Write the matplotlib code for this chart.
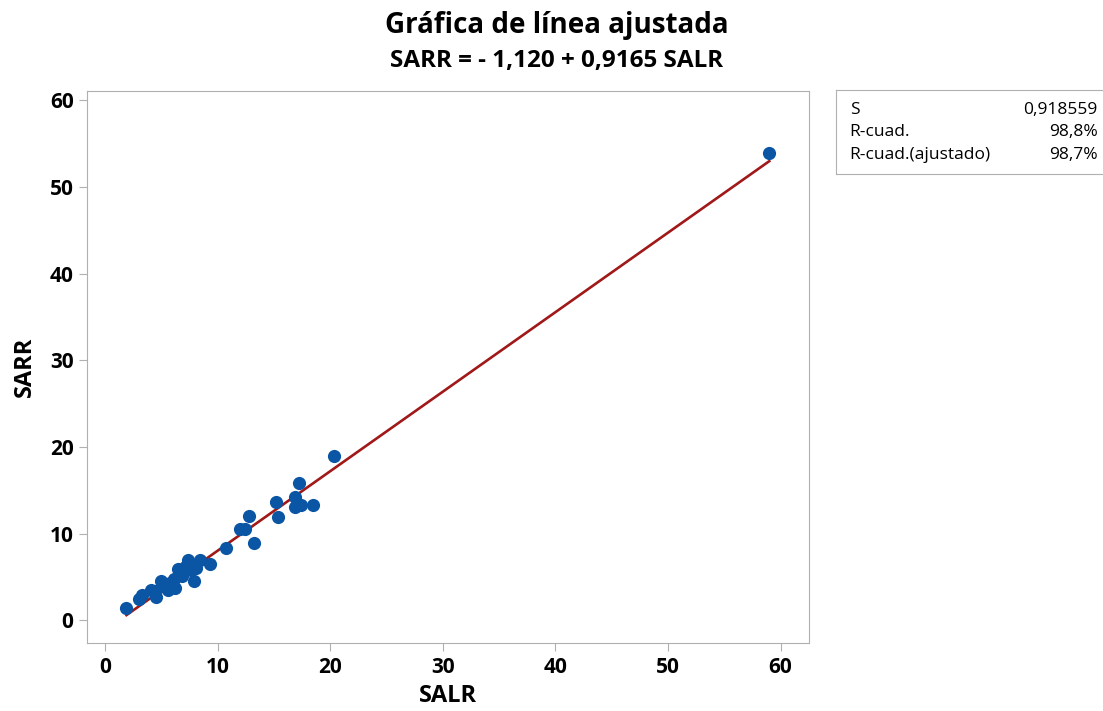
import matplotlib
matplotlib.use("Agg")
import matplotlib.pyplot as plt
import numpy as np

# data
salr = [1.9, 3.0, 3.3, 4.1, 4.4, 4.5, 5.0, 5.3, 5.6, 5.8, 6.1, 6.2, 6.5, 6.8,
        7.1, 7.4, 7.6, 7.9, 8.1, 8.4, 9.3, 10.7, 12.0, 12.4, 12.8, 13.2,
        15.2, 15.4, 16.9, 16.9, 17.2, 17.4, 18.5, 20.3, 59.0]
sarr = [1.4, 2.5, 2.9, 3.5, 3.4, 2.7, 4.5, 3.9, 3.5, 4.3, 4.8, 3.8, 5.9, 5.1,
        6.2, 7.0, 5.8, 4.6, 6.0, 7.0, 6.5, 8.3, 10.5, 10.5, 12.0, 8.9,
        13.7, 11.9, 14.2, 13.1, 15.8, 13.3, 13.3, 19.0, 53.9]
b0, b1 = -1.120, 0.9165
stats = [("S", "0,918559"), ("R-cuad.", "98,8%"), ("R-cuad.(ajustado)", "98,7%")]

plt.rcParams['font.family'] = ['Open Sans', 'DejaVu Sans']
fig = plt.figure(figsize=(11.03, 7.11), dpi=100)
ax = fig.add_axes([0.0786, 0.0952, 0.6551, 0.7772])

xl = np.linspace(min(salr), max(salr), 100)
ax.plot(xl, b0 + b1 * xl, color='#a01818', linewidth=1.9, zorder=2)
ax.scatter(salr, sarr, s=90, color='#0b55a5', zorder=3, linewidths=0)

ax.set_xlim(-1.63, 62.55)
ax.set_ylim(-2.63, 61.07)
ax.set_xticks(range(0, 61, 10))
ax.set_yticks(range(0, 61, 10))
for sp in ax.spines.values():
    sp.set_color('#b0b0b0')
ax.tick_params(colors='#b0b0b0', labelcolor='black', labelsize=15, length=6)
for lab in ax.get_xticklabels() + ax.get_yticklabels():
    lab.set_fontweight('bold')
ax.set_xlabel("SALR", fontsize=17, fontweight='bold', labelpad=5)
ax.set_ylabel("SARR", fontsize=17, fontweight='bold', labelpad=9)

fig.text(0.505, 0.954, "Gráfica de línea ajustada", ha='center', va='baseline',
         fontsize=20, fontweight='bold')
fig.text(0.505, 0.906, "SARR = - 1,120 + 0,9165 SALR", ha='center', va='baseline',
         fontsize=17.5, fontweight='bold')

# stats box
bx = fig.add_axes([0.758, 0.755, 0.245, 0.118])
bx.set_xticks([])
bx.set_yticks([])
for sp in bx.spines.values():
    sp.set_color('#b0b0b0')
for i, (k, v) in enumerate(stats):
    yy = 0.77 - i * 0.27
    bx.text(0.05, yy, k, fontsize=12.5, va='center', transform=bx.transAxes)
    bx.text(0.967, yy, v, fontsize=12.5, va='center', ha='right', transform=bx.transAxes)

plt.savefig("out.png", dpi=100)
